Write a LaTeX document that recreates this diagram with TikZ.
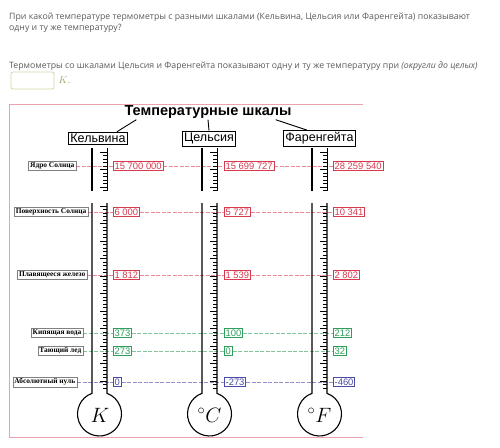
\documentclass[tikz,border=0pt]{standalone}
\usepackage{fontspec}
\setmainfont{Liberation Serif}
\setsansfont{Liberation Sans}
\newfontfamily\webfont{Open Sans}
\usetikzlibrary{positioning}

\definecolor{hotred}{HTML}{D83A4E}
\definecolor{watergreen}{HTML}{2E9E5A}
\definecolor{zeroblue}{HTML}{4A4AA8}
\definecolor{framepink}{HTML}{E9A3AE}
\definecolor{qgray}{HTML}{5A5A5A}
\definecolor{answergreen}{HTML}{C9D9A0}
\definecolor{kolive}{HTML}{9EA65A}

\tikzset{
  qtext/.style={anchor=base west, inner sep=0pt, text=qgray, font=\webfont\fontsize{8.75}{10}\selectfont},
  scalebox/.style={draw, line width=0.8pt, fill=white, inner sep=2pt, font=\sffamily\fontsize{12.5}{12.5}\selectfont},
  pointbox/.style={draw=gray, line width=0.5pt, fill=white, inner sep=1.5pt, anchor=east, font=\bfseries\fontsize{7.4}{7.4}\selectfont},
  valbox/.style={draw=#1, text=#1, line width=0.7pt, fill=white, inner sep=1.3pt, anchor=west, font=\sffamily\fontsize{9.4}{9.4}\selectfont},
  levelline/.style={draw=#1, draw opacity=0.6, line width=0.4pt, dash pattern=on 4pt off 1.5pt},
  wall/.style={line width=1.1pt},
  tick/.style={line width=0.7pt},
  bulbletter/.style={inner sep=0pt, font=\fontsize{22}{22}\selectfont},
}

\begin{document}
\begin{tikzpicture}[x=1pt,y=-1pt]
  \useasboundingbox (0,0) rectangle (500,447);

  \node[qtext] (q1) at (9,19) {При какой температуре термометры с разными шкалами (Кельвина, Цельсия или Фаренгейта) показывают};
  \node[qtext] (q2) at (9,30) {одну и ту же температуру?};
  \node[qtext] (q3) at (9,68) {Термометры со шкалами Цельсия и Фаренгейта показывают одну и ту же температуру при {\itshape(округли до целых)}};
  \node[draw=answergreen, rounded corners=2pt, line width=0.8pt, minimum width=43pt, minimum height=17pt, inner sep=0pt] (answer) at (32.5,80.5) {};
  \node[right=4pt of answer, inner sep=0pt, text=kolive, font=\fontsize{10}{10}\selectfont] (unit) {$K$.};

  \draw[framepink, line width=0.8pt] (363,104) -- (9,104) -- (9,437) -- (363,437);

  \node[inner sep=1pt, font=\sffamily\bfseries\fontsize{14.5}{14.5}\selectfont] (title) at (208,112) {Температурные шкалы};
  \node[scalebox] (kel) at (98,138.5) {Кельвина};
  \node[scalebox] (cel) at (209,138.5) {Цельсия};
  \node[scalebox] (far) at (319.5,138.5) {Фаренгейта};
  \draw[line width=0.9pt] ([xshift=13pt]title.south west) -- ([xshift=-11pt]kel.north east);
  \draw[line width=0.9pt] (title.south) -- (cel.north);
  \draw[line width=0.9pt] ([xshift=-17pt]title.south east) -- ([xshift=24pt]far.north west);

  \node[pointbox] (core) at (76,166) {Ядро Солнца};
  \node[pointbox] (surface) at (88,212) {Поверхность Солнца};
  \node[pointbox] (iron) at (87,275) {Плавящееся железо};
  \node[pointbox] (boil) at (83,333) {Кипящая вода};
  \node[pointbox] (ice) at (83,351) {Тающий лед};
  \node[pointbox] (zero) at (77,382) {Абсолютный нуль};

  \node[valbox=hotred] (coreK) at (113,166) {15 700 000};
  \node[valbox=hotred] (coreC) at (224,166) {15 699 727};
  \node[valbox=hotred] (coreF) at (333,166) {28 259 540};
  \node[valbox=hotred] (surfaceK) at (113,212) {6 000};
  \node[valbox=hotred] (surfaceC) at (224,212) {5 727};
  \node[valbox=hotred] (surfaceF) at (333,212) {10 341};
  \node[valbox=hotred] (ironK) at (113,275) {1 812};
  \node[valbox=hotred] (ironC) at (224,275) {1 539};
  \node[valbox=hotred] (ironF) at (333,275) {2 802};
  \node[valbox=watergreen] (boilK) at (113,333) {373};
  \node[valbox=watergreen] (boilC) at (224,333) {100};
  \node[valbox=watergreen] (boilF) at (333,333) {212};
  \node[valbox=watergreen] (iceK) at (113,351) {273};
  \node[valbox=watergreen] (iceC) at (224,351) {0};
  \node[valbox=watergreen] (iceF) at (333,351) {32};
  \node[valbox=zeroblue] (zeroK) at (113,382) {0};
  \node[valbox=zeroblue] (zeroC) at (224,382) {-273};
  \node[valbox=zeroblue] (zeroF) at (333,382) {-460};

  \foreach \p/\c in {core/hotred,surface/hotred,iron/hotred,boil/watergreen,ice/watergreen,zero/zeroblue}{
    \draw[levelline=\c] (\p.east) -- (\p K.west);
    \draw[levelline=\c] (\p K.east) -- (\p C.west);
    \draw[levelline=\c] (\p C.east) -- (\p F.west);
  }

  \node[bulbletter] (kbulb) at (100,415) {$K$};
  \node[bulbletter] (cbulb) at (209.5,415) {$^\circ C$};
  \node[bulbletter] (fbulb) at (319.5,415) {$^\circ F$};

  \foreach \m in {99.5,209.5,319.5}{
    \draw[wall] (\m-7.5,148) -- (\m-7.5,191);
    \draw[tick] (\m+7.5,148) -- (\m+7.5,191);
    \draw[wall] (\m-7.5,203) -- (\m-7.5,393.3)
      arc[start angle=250.06, end angle=-70.06, radius=22] -- (\m+7.5,203);
    \foreach \i in {0,...,11}{
      \pgfmathsetmacro{\len}{ifthenelse(mod(\i,5)==0,7,4)}
      \draw[tick] (\m+7.5,152+3.5*\i) -- ++(-\len,0);
    }
    \foreach \i in {0,...,52}{
      \pgfmathsetmacro{\len}{ifthenelse(mod(\i,5)==0,7,4)}
      \draw[tick] (\m+7.5,206+3.5*\i) -- ++(-\len,0);
    }
  }
\end{tikzpicture}
\end{document}
